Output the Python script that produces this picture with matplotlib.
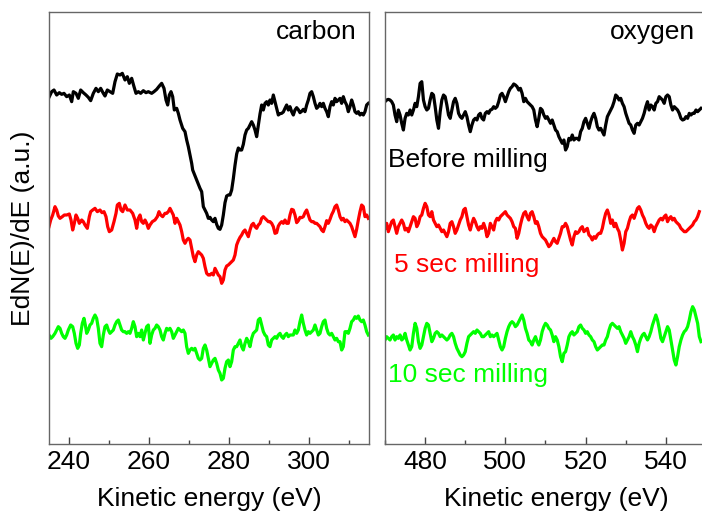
import numpy as np
import matplotlib
matplotlib.use("Agg")
import matplotlib.pyplot as plt
from matplotlib.ticker import MultipleLocator

plt.rcParams['font.family'] = ['Liberation Sans', 'DejaVu Sans']

# ---------------- carbon KLL region ----------------
# before milling, low-energy part (explicit energies)
c_before_e1 = [235.00, 235.67, 236.25, 236.92, 237.58, 238.17, 238.75, 239.42, 240.08, 240.67,
               241.08, 241.75, 242.33, 242.92, 243.58, 244.25, 244.83, 245.42, 246.08, 246.75,
               247.33, 247.92, 248.58, 249.00, 249.58, 250.25, 250.92, 251.50, 252.08, 252.75,
               253.33, 254.00, 254.58, 255.08, 255.67, 256.25, 256.75, 257.33, 257.92, 258.58,
               259.25, 259.83, 260.67, 261.25, 261.92, 262.58, 263.17, 263.75, 264.25, 264.67,
               265.08, 265.50, 265.92, 266.33, 266.92, 267.33, 267.75, 268.42, 269.00, 269.42,
               269.83, 270.25, 270.67, 270.92]
c_before_s1 = [188, 205, 210, 195, 202, 197, 200, 190, 195, 175,
               205, 200, 185, 210, 202, 195, 188, 178, 200, 215,
               205, 215, 200, 192, 210, 205, 200, 235, 258, 255,
               260, 240, 250, 230, 245, 220, 200, 205, 200, 208,
               202, 205, 200, 205, 212, 222, 230, 215, 180, 165,
               195, 205, 190, 150, 155, 140, 120, 95, 85, 60,
               40, 15, -10, -30]
# before milling, high-energy part (uniform step)
c_before_s2 = [-85, -95, -140, -150, -160, -175, -172, -180, -185, -175,
               -193, -205, -208, -195, -165, -128, -108, -105, -105, -90,
               -56, -16, 18, 36, 30, 30, 47, 75, 90, 95,
               105, 115, 105, 90, 70, 105, 138, 165, 150, 170,
               175, 165, 180, 170, 195, 175, 155, 135, 139, 140,
               144, 155, 165, 150, 160, 145, 135, 150, 157, 151,
               142, 146, 152, 145, 165, 180, 200, 205, 190, 170,
               155, 160, 170, 160, 170, 155, 145, 130, 160, 175,
               165, 185, 175, 180, 185, 170, 190, 175, 165, 145,
               160, 180, 165, 145, 140, 145, 135, 140, 135, 145,
               165, 170]

# 5 sec milling
c_5s_e1 = [235.00, 235.42, 235.92, 236.50, 236.92, 237.33, 237.75, 238.33, 238.83, 239.42,
           240.08, 240.50, 240.92, 241.33, 241.75, 242.17, 242.58, 243.17, 243.58, 244.00,
           244.58, 245.08, 245.42, 245.92, 246.50, 247.08, 247.75, 248.25, 248.75, 249.25,
           249.67, 250.08, 250.67, 251.25, 251.75, 252.08, 252.58, 253.00, 253.42, 254.00,
           254.58, 255.25, 255.92, 256.50, 256.92, 257.33, 257.75, 258.17, 258.58, 259.00,
           259.42, 259.83, 260.25, 260.83, 261.50, 262.08, 262.50, 262.92, 263.42, 264.00,
           264.42, 264.83, 265.25, 265.67, 266.08, 266.50, 266.92, 267.33, 267.75, 268.17,
           268.58, 269.00, 269.42, 269.83, 270.25, 270.67, 271.08, 271.50, 271.92, 272.33]
c_5s_s1 = [190, 210, 225, 250, 240, 222, 215, 220, 225, 225,
           228, 210, 180, 200, 225, 215, 200, 210, 205, 195,
           185, 220, 235, 240, 245, 235, 240, 232, 235, 220,
           190, 175, 180, 205, 230, 255, 260, 240, 235, 255,
           240, 240, 230, 210, 185, 215, 225, 205, 200, 210,
           200, 185, 195, 205, 210, 220, 235, 225, 220, 230,
           230, 235, 245, 235, 225, 200, 215, 205, 195, 175,
           150, 140, 150, 155, 150, 125, 100, 85, 105, 115]
c_5s_s2 = [110, 105, 95, 70, 50, 45, 45, 50, 45, 65,
           55, 45, 40, 20, 30, 60, 72, 75, 80, 85,
           90, 105, 135, 148, 158, 165, 175, 180, 170, 160,
           180, 195, 200, 190, 185, 195, 200, 215, 220, 215,
           210, 205, 205, 200, 190, 170, 172, 192, 200, 205,
           200, 210, 200, 200, 225, 242, 240, 225, 202, 208,
           218, 217, 220, 232, 240, 225, 210, 205, 205, 200,
           200, 195, 190, 180, 175, 190, 208, 200, 212, 226,
           236, 250, 255, 240, 220, 210, 215, 205, 210, 205,
           200, 190, 175, 160, 182, 210, 235, 255, 250, 220,
           225, 215]

# 10 sec milling
c_10s_e1 = [235.00, 235.50, 235.92, 236.50, 236.92, 237.33, 237.75, 238.17, 238.58, 239.00,
            239.42, 239.83, 240.42, 240.92, 241.33, 241.75, 242.17, 242.58, 242.92, 243.33,
            243.75, 244.08, 244.42]
c_10s_s1 = [195, 185, 190, 200, 210, 220, 215, 200, 190, 185,
            195, 210, 225, 220, 200, 170, 155, 165, 200, 230,
            245, 225, 200,
            210, 225, 230, 245, 255, 245, 215, 170, 160, 195,
            220, 225, 210, 200, 205, 210, 225, 235, 240, 225,
            210, 205, 205, 200, 205, 200, 215, 235, 220, 190,
            200, 190, 210, 180, 200, 220, 225, 170, 195, 210,
            215, 225, 220, 210, 190, 180, 200, 215, 210, 215,
            205, 185, 195, 205, 215, 210, 205, 210, 200, 160,
            140, 150, 155, 150, 155, 140, 125]
c_10s_s2 = [120, 125, 155, 165, 150, 125, 100, 110, 120, 125,
            110, 90, 80, 60, 65, 95, 115, 120, 100, 115,
            150, 160, 160, 170, 180, 160, 150, 170, 185, 175,
            160, 185, 200, 205, 210, 240, 245, 225, 205, 195,
            190, 165, 160, 180, 185, 190, 185, 195, 200, 190,
            185, 195, 200, 190, 195, 195, 195, 210, 200, 210,
            235, 255, 230, 210, 195, 205, 200, 205, 210, 225,
            210, 195, 200, 220, 235, 240, 215, 200, 195, 200,
            190, 180, 185, 175, 175, 150, 160, 205, 205, 200,
            215, 235, 240, 250, 245, 252, 240, 235, 240, 225,
            205, 195]

# ---------------- oxygen KLL region ----------------
o_before = [175, 180, 182, 180, 175, 165, 135, 115, 150, 135,
            110, 90, 125, 140, 135, 150, 135, 150, 170, 160,
            190, 230, 235, 180, 160, 150, 155, 180, 200, 195,
            160, 120, 95, 145, 180, 195, 190, 165, 135, 125,
            150, 175, 185, 170, 140, 130, 125, 135, 145, 130,
            105, 85, 105, 120, 125, 120, 135, 140, 125, 120,
            140, 145, 140, 150, 152, 160, 155, 160, 175, 195,
            200, 190, 175, 190, 205, 215, 220, 228, 225, 220,
            210, 215, 200, 175, 185, 175, 170, 165, 160, 150,
            120, 100, 125, 155, 150, 135, 125, 130, 120, 110,
            120, 105, 90, 85, 70, 60, 50, 60, 30, 40,
            65, 60, 75, 60, 65, 65, 60, 85, 95, 115,
            125, 110, 95, 115, 130, 140, 125, 100, 90, 95,
            85, 75, 105, 130, 140, 150, 160, 175, 195, 190,
            180, 185, 170, 160, 140, 125, 110, 105, 90, 80,
            105, 110, 105, 115, 125, 140, 160, 175, 150, 165,
            160, 150, 170, 175, 190, 185, 180, 170, 190, 195,
            190, 165, 150, 160, 155, 150, 140, 125, 120, 122,
            130, 125, 140, 135, 140, 140, 150, 145, 150, 155]
o_5s = [185, 200, 175, 190, 205, 210, 190, 170, 190, 200,
        210, 200, 180, 185, 175, 190, 205, 220, 215, 190,
        200, 220, 225, 245, 260, 250, 225, 220, 235, 210,
        200, 190, 195, 185, 175, 180, 170, 160, 175, 200,
        205, 190, 170, 180, 195, 210, 220, 240, 245, 220,
        195, 180, 200, 215, 205, 190, 180, 190, 185, 200,
        185, 160, 170, 200, 190, 180, 205, 215, 210, 220,
        225, 230, 235, 225, 220, 215, 205, 190, 185, 155,
        170, 195, 215, 230, 235, 220, 210, 230, 235, 220,
        200, 205, 190, 170, 160, 155, 150, 140, 130, 135,
        145, 155, 145, 140, 155, 170, 190, 190, 200, 190,
        170, 150, 135, 160, 175, 170, 175, 185, 190, 175,
        180, 185, 165, 160, 150, 160, 155, 165, 170, 170,
        185, 210, 230, 240, 225, 200, 210, 190, 200, 185,
        175, 150, 120, 140, 175, 185, 205, 220, 225, 215,
        230, 245, 250, 240, 225, 215, 200, 190, 185, 195,
        190, 175, 190, 200, 210, 215, 210, 220, 225, 205,
        215, 220, 210, 215, 205, 200, 195, 185, 180, 175,
        175, 180, 185, 190, 195, 205, 210, 220, 235]
o_10s = [150, 160, 155, 150, 160, 165, 150, 160, 155, 165,
         150, 155, 170, 150, 135, 120, 130, 170, 200, 185,
         145, 125, 135, 160, 185, 200, 195, 170, 145, 155,
         170, 175, 170, 160, 165, 160, 155, 150, 155, 165,
         170, 160, 140, 125, 115, 105, 100, 105, 115, 140,
         160, 165, 170, 175, 170, 180, 175, 170, 160, 160,
         165, 170, 175, 160, 165, 160, 165, 170, 150, 130,
         120, 130, 155, 175, 190, 200, 205, 200, 190, 195,
         205, 215, 225, 210, 185, 170, 150, 145, 135, 150,
         160, 145, 135, 150, 175, 190, 200, 195, 185, 180,
         165, 145, 160, 150, 130, 100, 85, 110, 115, 135,
         160, 170, 175, 165, 170, 175, 190, 195, 185, 180,
         170, 175, 165, 160, 150, 145, 130, 120, 125, 130,
         135, 135, 150, 160, 180, 195, 200, 195, 190, 185,
         190, 175, 165, 155, 140, 150, 160, 175, 160, 150,
         135, 115, 140, 155, 165, 170, 160, 150, 160, 175,
         195, 210, 225, 210, 185, 155, 145, 160, 175, 190,
         180, 150, 120, 90, 75, 100, 130, 150, 165, 175,
         180, 190, 210, 235, 250, 240, 220, 200, 160, 145]

# energy grids
c_before_e = np.concatenate([c_before_e1, np.linspace(272.75, 314.83, len(c_before_s2))])
c_before = np.concatenate([c_before_s1, c_before_s2])
c_5s_e = np.concatenate([c_5s_e1, np.linspace(272.75, 314.83, len(c_5s_s2))])
c_5s = np.concatenate([c_5s_s1, c_5s_s2])
c_10s_e = np.concatenate([c_10s_e1,
                          np.linspace(244.83, 272.33, len(c_10s_s1) - len(c_10s_e1)),
                          np.linspace(272.75, 314.83, len(c_10s_s2))])
c_10s = np.concatenate([c_10s_s1, c_10s_s2])
o_before_e = np.linspace(470.0, 548.75, len(o_before))
o_5s_e = np.linspace(470.0, 548.33, len(o_5s))
o_10s_e = np.linspace(470.0, 548.75, len(o_10s))

# vertical stacking offsets (a.u.)
off_before = 852
off_5s = 462
off_10s_c = 132
off_10s_o = 162

BLACK, RED, GREEN = '#000000', '#ff0000', '#00ff00'
LW = 2.3
FS = 19

fig = plt.figure(figsize=(7.02, 5.17), dpi=100)
ax1 = fig.add_axes([49 / 702, 73 / 517, 320 / 702, 432 / 517])
ax2 = fig.add_axes([385 / 702, 73 / 517, 321 / 702, 432 / 517])

ax1.plot(c_before_e, c_before + off_before, color=BLACK, lw=LW)
ax1.plot(c_5s_e, c_5s + off_5s, color=RED, lw=LW)
ax1.plot(c_10s_e, c_10s + off_10s_c, color=GREEN, lw=LW)

ax2.plot(o_before_e, np.array(o_before) + off_before, color=BLACK, lw=LW)
ax2.plot(o_5s_e, np.array(o_5s) + off_5s, color=RED, lw=LW)
ax2.plot(o_10s_e, np.array(o_10s) + off_10s_o, color=GREEN, lw=LW)

ax1.set_xlim(235, 315)
ax2.set_xlim(470, 550)
for ax in (ax1, ax2):
    ax.set_ylim(0, 1296)
    ax.set_yticks([])
    ax.xaxis.set_major_locator(MultipleLocator(20))
    ax.xaxis.set_minor_locator(MultipleLocator(10))
    ax.tick_params(axis='x', which='major', direction='in', length=5, width=1,
                   color='#444444', labelsize=FS, pad=4)
    ax.tick_params(axis='x', which='minor', direction='in', length=3, width=1,
                   color='#444444')
    for sp in ax.spines.values():
        sp.set_color('#666666')
        sp.set_linewidth(1.0)
ax2.spines['right'].set_visible(False)

ax1.set_xlabel('Kinetic energy (eV)', fontsize=FS, labelpad=10)
ax2.set_xlabel('Kinetic energy (eV)', fontsize=FS, labelpad=10, x=0.533)
ax1.set_ylabel('EdN(E)/dE (a.u.)', fontsize=FS, labelpad=10)

ax1.text(0.9625, 0.954, 'carbon', transform=ax1.transAxes, ha='right', va='center', fontsize=FS)
ax2.text(0.966, 0.954, 'oxygen', transform=ax2.transAxes, ha='right', va='center', fontsize=FS)
ax2.text(0.009, 0.657, 'Before milling', transform=ax2.transAxes, ha='left', va='center',
         fontsize=FS, color=BLACK)
ax2.text(0.028, 0.414, '5 sec milling', transform=ax2.transAxes, ha='left', va='center',
         fontsize=FS, color=RED)
ax2.text(0.009, 0.160, '10 sec milling', transform=ax2.transAxes, ha='left', va='center',
         fontsize=FS, color=GREEN)

fig.savefig('out.png', dpi=100)
